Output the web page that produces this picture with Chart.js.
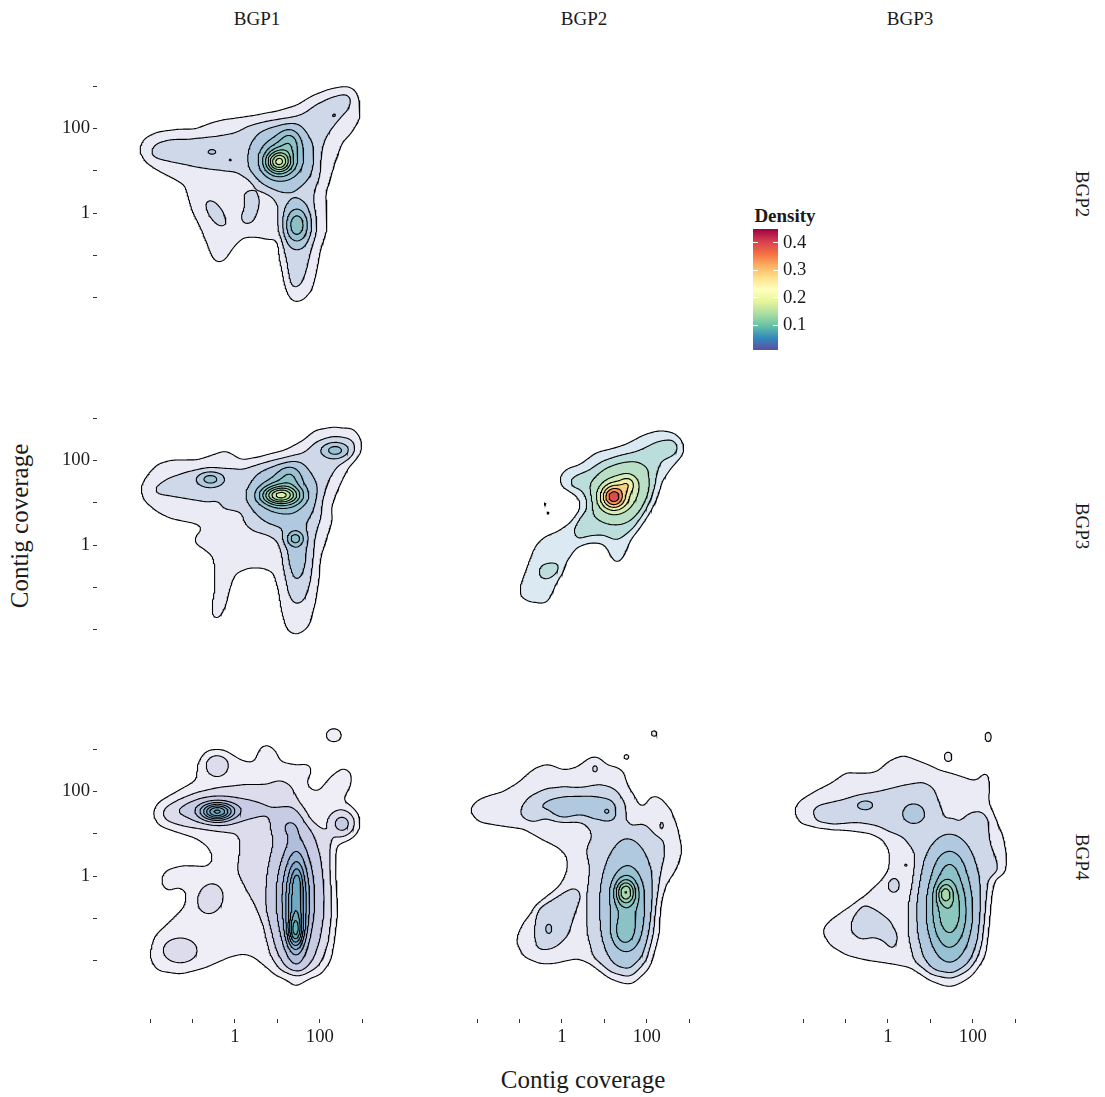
<!DOCTYPE html>
<html>
<head>
<meta charset="utf-8">
<script src="https://cdn.jsdelivr.net/npm/chart.js@4.4.1/dist/chart.umd.min.js"></script>
<style>
  body { margin: 0; background: #fff; width: 1105px; height: 1097px; position: relative; overflow: hidden;
         font-family: "Liberation Serif", "DejaVu Serif", serif; color: #1a1a1a; }
  canvas { position: absolute; }
  .t { position: absolute; white-space: nowrap; transform: translate(-50%, -50%); }
</style>
</head>
<body>
<div class="t" style="left:257px;top:19px;font-size:19px">BGP1</div>
<div class="t" style="left:584px;top:19px;font-size:19px">BGP2</div>
<div class="t" style="left:910px;top:19px;font-size:19px">BGP3</div>
<div class="t" style="left:1082px;top:194px;font-size:19px;transform:translate(-50%,-50%) rotate(90deg)">BGP2</div>
<div class="t" style="left:1082px;top:526px;font-size:19px;transform:translate(-50%,-50%) rotate(90deg)">BGP3</div>
<div class="t" style="left:1082px;top:857px;font-size:19px;transform:translate(-50%,-50%) rotate(90deg)">BGP4</div>
<div class="t" style="left:583px;top:1080px;font-size:25px">Contig coverage</div>
<div class="t" style="left:20px;top:526px;font-size:25px;transform:translate(-50%,-50%) rotate(-90deg)">Contig coverage</div>
<div class="t" style="left:785px;top:216px;font-size:19px;font-weight:bold">Density</div>

<script>
// axes are log10(coverage)
const xMin = -3.25, xMax = 4.29;
const yMin = -3.37, yMax = 4.28;
const tickValues = [-2, -1, 0, 1, 2, 3];
const tickLabels = ['', '', '1', '', '100', ''];

// colour scale (Spectral, reversed) over the contour levels
const levelMin = 0.01, levelMax = 0.45;
const legendTicks = [0.1, 0.2, 0.3, 0.4];
const spectral = ['#5E4FA2', '#3288BD', '#66C2A5', '#ABDDA4', '#E6F598', '#FFFFBF',
                  '#FEE08B', '#FDAE61', '#F46D43', '#D53E4F', '#9E0142'];

// Each panel: outlines of the lower density bands (log10 x, log10 y), each one adds one
// contour step, plus peaks on top [x, y, sdx, sdy, height, angle deg].
const bgp2_vs_bgp1_bands = [
  [[-2.27,1.49],[-2.15,1.76],[-1.84,1.92],[-1.37,1.98],[-0.9,2.0],[-0.58,2.13],[-0.27,2.21],[0.13,2.26],[0.52,2.31],[0.99,2.39],[1.46,2.55],[1.85,2.79],[2.25,2.94],[2.64,3.0],[2.84,2.9],[2.95,2.59],[2.95,2.24],[2.76,1.92],[2.52,1.65],[2.36,1.25],[2.25,0.86],[2.13,0.46],[2.17,0.07],[2.17,-0.4],[2.01,-0.87],[1.93,-1.35],[1.81,-1.82],[1.62,-2.05],[1.38,-2.12],[1.23,-1.9],[1.15,-1.5],[1.05,-1.03],[1.03,-0.56],[0.83,-0.64],[0.52,-0.56],[0.2,-0.56],[-0.03,-0.79],[-0.23,-1.11],[-0.42,-1.19],[-0.54,-1.03],[-0.66,-0.72],[-0.82,-0.32],[-1.01,0.07],[-1.13,0.46],[-1.17,0.66],[-1.45,0.82],[-1.84,1.02],[-2.11,1.21]],
  [[-2.0,1.47],[-1.84,1.66],[-1.52,1.74],[-0.97,1.76],[-0.42,1.82],[0.05,1.9],[0.32,2.04],[0.75,2.12],[1.23,2.17],[1.58,2.31],[1.89,2.55],[2.25,2.73],[2.6,2.83],[2.76,2.73],[2.68,2.47],[2.44,2.2],[2.21,1.92],[2.03,1.61],[1.95,1.25],[1.97,0.9],[1.85,0.54],[1.84,0.15],[1.89,-0.32],[1.78,-0.79],[1.7,-1.27],[1.58,-1.66],[1.42,-1.82],[1.29,-1.66],[1.23,-1.27],[1.16,-0.79],[1.08,-0.32],[1.05,0.15],[0.91,0.43],[0.52,0.66],[0.32,0.86],[0.05,0.98],[-0.42,1.02],[-0.9,1.09],[-1.37,1.19],[-1.8,1.28],[-1.96,1.35]],
  [[-0.66,0.35],[-0.46,0.27],[-0.27,0.03],[-0.17,-0.24],[-0.27,-0.36],[-0.42,-0.28],[-0.62,-0.05],[-0.72,0.23]],
  [[0.2,0.5],[0.44,0.53],[0.58,0.31],[0.52,-0.01],[0.4,-0.24],[0.2,-0.28],[0.13,-0.09],[0.24,0.15]]
];
const bgp2_vs_bgp1_peaks = [
  [1.1, 1.3, 0.42, 0.42, 0.06, 0],
  [1.03, 1.21, 0.2, 0.18, 0.1, 0],
  [1.3, 1.72, 0.18, 0.22, 0.03, 0],
  [1.46, -0.28, 0.2, 0.3, 0.065, 0],
  [-0.54, 1.45, 0.1, 0.06, 0.015, 0],
  [-0.11, 1.26, 0.03, 0.03, 0.013, 0],
  [2.34, 2.31, 0.07, 0.05, 0.013, 30]
];

const bgp3_vs_bgp1_bands = [
  [[-2.23,1.36],[-2.07,1.65],[-1.8,1.93],[-1.45,2.02],[-0.9,2.01],[-0.54,2.13],[-0.23,2.24],[-0.03,2.13],[0.13,2.01],[0.52,2.05],[1.15,2.2],[1.62,2.48],[1.89,2.72],[2.33,2.79],[2.8,2.75],[2.99,2.48],[2.95,2.16],[2.68,1.85],[2.44,1.38],[2.25,0.91],[2.29,0.59],[2.17,0.2],[2.01,-0.28],[1.97,-0.83],[1.89,-1.38],[1.74,-1.93],[1.46,-2.13],[1.23,-2.01],[1.11,-1.61],[1.03,-1.06],[0.91,-0.63],[0.68,-0.55],[0.28,-0.55],[0.01,-0.67],[-0.11,-0.98],[-0.23,-1.46],[-0.38,-1.77],[-0.54,-1.73],[-0.54,-1.38],[-0.46,-0.98],[-0.5,-0.28],[-0.74,-0.08],[-0.97,0.04],[-0.93,0.24],[-0.7,0.39],[-0.9,0.51],[-1.52,0.63],[-1.84,0.79],[-2.15,1.06]],
  [[-1.92,1.34],[-1.6,1.57],[-1.13,1.73],[-0.58,1.81],[-0.11,1.81],[0.2,1.77],[0.68,1.89],[1.15,1.97],[1.62,2.16],[1.93,2.44],[2.33,2.57],[2.72,2.52],[2.84,2.32],[2.72,2.09],[2.4,1.85],[2.17,1.53],[1.97,1.06],[1.97,0.59],[1.85,0.12],[1.81,-0.35],[1.74,-0.91],[1.62,-1.3],[1.42,-1.42],[1.29,-1.14],[1.23,-0.67],[1.15,-0.2],[1.03,0.12],[0.75,0.28],[0.44,0.35],[0.24,0.51],[0.2,0.79],[-0.03,0.83],[-0.31,0.87],[-0.35,1.06],[-0.66,1.02],[-1.13,1.1],[-1.6,1.18],[-1.88,1.22]]
];
const bgp3_vs_bgp1_peaks = [
  [1.15, 1.2, 0.45, 0.42, 0.05, 0],
  [1.07, 1.18, 0.3, 0.15, 0.11, 0],
  [1.3, 1.65, 0.2, 0.2, 0.025, 0],
  [-0.58, 1.56, 0.2, 0.12, 0.04, 0],
  [2.36, 2.24, 0.2, 0.12, 0.04, 0],
  [1.42, 0.16, 0.14, 0.12, 0.045, 0],
  [1.45, -0.2, 0.2, 0.5, 0.02, 0]
];

const bgp3_vs_bgp2_bands = [
  [[2.86,2.4],[2.66,2.64],[2.31,2.72],[1.92,2.6],[1.52,2.36],[1.13,2.24],[0.82,2.18],[0.42,1.89],[0.11,1.81],[-0.06,1.61],[-0.01,1.38],[0.27,1.26],[0.5,1.06],[0.46,0.79],[0.19,0.51],[-0.13,0.31],[-0.4,0.2],[-0.64,-0.04],[-0.79,-0.43],[-0.99,-0.98],[-0.99,-1.22],[-0.75,-1.34],[-0.36,-1.38],[-0.2,-1.06],[0.03,-0.51],[0.35,-0.04],[0.66,0.08],[1.01,0.04],[1.17,-0.28],[1.29,-0.47],[1.45,-0.28],[1.6,0.12],[1.84,0.51],[2.11,1.06],[2.31,1.53],[2.62,1.89],[2.86,2.16]],
  [[0.19,1.53],[0.35,1.65],[0.66,1.73],[0.97,1.93],[1.37,2.05],[1.76,2.16],[2.23,2.44],[2.62,2.52],[2.78,2.32],[2.66,2.13],[2.31,2.01],[2.15,1.69],[2.11,1.3],[1.96,0.83],[1.68,0.43],[1.29,0.12],[1.13,0.2],[0.97,0.28],[0.66,0.24],[0.35,0.12],[0.27,0.35],[0.42,0.67],[0.66,0.83],[0.66,1.14],[0.5,1.34],[0.23,1.36]],
  [[-0.52,-0.47],[-0.28,-0.41],[-0.05,-0.43],[-0.01,-0.59],[-0.2,-0.75],[-0.44,-0.83],[-0.56,-0.71]]
];
const bgp3_vs_bgp2_peaks = [
  [1.4, 1.25, 0.5, 0.42, 0.1, 40],
  [1.21, 1.14, 0.2, 0.2, 0.22, 0],
  [1.55, 1.45, 0.13, 0.13, 0.07, 0],
  [-0.4, 0.97, 0.03, 0.03, 0.035, 0],
  [-0.33, 0.76, 0.03, 0.03, 0.035, 0]
];

const bgp4_vs_bgp1_bands = [
  [[-1.92,1.48],[-1.8,1.72],[-1.37,1.99],[-0.9,2.27],[-0.86,2.66],[-0.66,2.94],[-0.27,2.94],[0.13,2.74],[0.44,2.66],[0.6,3.05],[0.75,3.13],[0.95,2.98],[1.07,2.7],[1.46,2.62],[1.78,2.66],[1.81,2.46],[1.66,2.23],[1.78,2.03],[1.97,1.99],[2.25,2.35],[2.56,2.58],[2.76,2.42],[2.72,2.11],[2.52,1.79],[2.72,1.64],[2.91,1.4],[2.88,1.09],[2.72,0.93],[2.4,0.77],[2.33,0.38],[2.36,-0.17],[2.4,-0.8],[2.33,-1.43],[2.25,-1.98],[2.01,-2.3],[1.54,-2.38],[0.99,-2.3],[0.44,-1.9],[0.2,-1.83],[-0.11,-1.9],[-0.66,-2.14],[-1.29,-2.3],[-1.84,-2.22],[-2.0,-1.9],[-1.88,-1.43],[-1.52,-1.04],[-1.17,-0.72],[-1.13,-0.37],[-1.33,-0.25],[-1.6,-0.37],[-1.76,-0.13],[-1.64,0.14],[-1.21,0.26],[-0.66,0.22],[-0.5,0.38],[-0.62,0.69],[-0.9,0.89],[-1.37,1.05],[-1.8,1.2]],
  [[-1.68,1.52],[-1.37,1.72],[-0.9,1.95],[-0.42,2.07],[0.13,2.15],[0.68,2.15],[1.07,2.27],[1.3,2.15],[1.46,1.72],[1.7,1.28],[1.93,1.13],[2.25,0.93],[2.21,0.38],[2.25,-0.33],[2.25,-0.96],[2.17,-1.59],[1.97,-2.06],[1.62,-2.26],[1.15,-2.18],[0.91,-1.83],[0.75,-1.2],[0.52,-0.72],[0.28,-0.33],[0.05,0.14],[0.13,0.77],[0.05,1.01],[-0.27,1.05],[-0.74,1.13],[-1.21,1.2],[-1.6,1.32]]
];
const bgp4_vs_bgp1_peaks = [
  [-0.42, 1.52, 0.25, 0.14, 0.055, 0],
  [-0.3, 1.58, 0.75, 0.2, 0.013, 0],
  [1.23, 1.2, 0.25, 0.22, 0.009, 0],
  [1.42, -0.5, 0.36, 0.95, 0.032, 0],
  [1.45, -0.7, 0.16, 0.8, 0.03, 0],
  [1.42, -1.3, 0.12, 0.25, 0.035, 0],
  [1.47, -0.1, 0.08, 0.2, 0.01, 0],
  [2.33, 3.33, 0.16, 0.14, 0.009, 0],
  [-0.42, 2.62, 0.2, 0.2, 0.012, 0],
  [-1.29, -1.75, 0.3, 0.22, 0.012, 0],
  [-0.58, -0.53, 0.22, 0.27, 0.012, -20],
  [2.52, 1.24, 0.2, 0.2, 0.02, 0]
];

const bgp4_vs_bgp2_bands = [
  [[-2.19,1.56],[-2.0,1.79],[-1.68,1.91],[-1.37,1.99],[-1.05,2.19],[-0.66,2.54],[-0.35,2.66],[0.05,2.5],[0.36,2.58],[0.68,2.82],[0.87,2.82],[1.07,2.62],[1.3,2.58],[1.46,2.46],[1.54,2.11],[1.7,1.79],[1.81,1.56],[1.97,1.6],[2.13,1.91],[2.33,1.83],[2.56,1.56],[2.72,1.16],[2.84,0.61],[2.68,0.14],[2.4,-0.25],[2.25,-0.72],[2.21,-1.43],[2.01,-2.14],[1.62,-2.5],[1.15,-2.38],[0.68,-2.06],[0.36,-1.94],[-0.19,-2.06],[-0.54,-2.06],[-0.9,-1.9],[-1.09,-1.51],[-0.93,-1.12],[-0.66,-0.8],[-0.35,-0.49],[-0.07,-0.25],[0.13,0.14],[0.13,0.46],[-0.11,0.69],[-0.5,0.89],[-0.9,1.13],[-1.45,1.2],[-1.96,1.28]],
  [[-0.93,1.56],[-0.74,1.83],[-0.35,2.03],[0.05,2.07],[0.44,2.03],[0.91,2.15],[1.23,2.03],[1.35,1.79],[1.38,1.32],[1.62,1.09],[1.93,1.2],[2.17,0.97],[2.4,0.85],[2.4,0.46],[2.25,-0.02],[2.17,-0.65],[2.09,-1.28],[1.97,-1.9],[1.62,-2.3],[1.15,-2.22],[0.75,-1.9],[0.6,-1.28],[0.6,-0.49],[0.68,0.22],[0.56,0.61],[0.75,0.97],[0.6,1.32],[0.2,1.48],[-0.42,1.48],[-0.66,1.32],[-0.9,1.4]],
  [[-0.58,-0.72],[-0.27,-0.57],[0.13,-0.33],[0.36,-0.25],[0.44,-0.49],[0.28,-0.96],[0.13,-1.43],[-0.19,-1.71],[-0.58,-1.75],[-0.66,-1.35]]
];
const bgp4_vs_bgp2_peaks = [
  [0.4, 1.62, 0.9, 0.3, 0.016, 0],
  [0.05, 1.48, 0.18, 0.1, 0.02, 0],
  [1.06, 1.53, 0.1, 0.1, 0.02, 0],
  [1.55, -0.7, 0.36, 0.85, 0.055, 0],
  [1.5, -0.37, 0.16, 0.2, 0.08, 0],
  [1.46, -1.35, 0.2, 0.25, 0.025, 0],
  [-0.31, -1.24, 0.08, 0.12, 0.015, 0],
  [1.52, 2.82, 0.06, 0.06, 0.015, 0],
  [2.17, 3.37, 0.07, 0.07, 0.015, 0],
  [0.78, 2.54, 0.06, 0.08, 0.015, 0],
  [2.35, 1.2, 0.04, 0.07, 0.015, 0]
];

const bgp4_vs_bgp3_bands = [
  [[-2.23,1.56],[-2.07,1.79],[-1.68,2.03],[-1.29,2.23],[-0.97,2.46],[-0.66,2.42],[-0.27,2.46],[0.05,2.74],[0.36,2.86],[0.68,2.74],[0.99,2.62],[1.23,2.5],[1.54,2.42],[1.85,2.31],[2.09,2.23],[2.25,2.46],[2.36,2.46],[2.4,2.11],[2.36,1.79],[2.52,1.4],[2.72,0.93],[2.8,0.46],[2.76,0.06],[2.52,-0.02],[2.4,-0.49],[2.33,-1.2],[2.25,-1.9],[1.93,-2.3],[1.46,-2.46],[0.99,-2.38],[0.52,-2.14],[0.05,-2.06],[-0.5,-1.98],[-0.97,-1.87],[-1.37,-1.63],[-1.56,-1.28],[-1.37,-1.04],[-0.9,-0.72],[-0.58,-0.49],[-0.27,-0.21],[0.01,0.06],[0.05,0.54],[-0.11,0.85],[-0.42,1.01],[-0.97,1.09],[-1.68,1.16],[-2.07,1.24]],
  [[-1.8,1.56],[-1.6,1.69],[-1.13,1.79],[-0.66,1.91],[-0.11,2.03],[0.36,2.15],[0.83,2.23],[1.07,2.09],[1.21,1.72],[1.34,1.24],[1.5,1.4],[1.66,1.2],[1.93,1.5],[2.21,1.54],[2.36,1.34],[2.4,0.77],[2.56,0.38],[2.6,0.1],[2.33,-0.09],[2.25,-0.8],[2.17,-1.59],[1.97,-2.06],[1.54,-2.3],[1.03,-2.26],[0.64,-1.98],[0.52,-1.43],[0.52,-0.72],[0.64,-0.09],[0.68,0.54],[0.36,0.93],[0.05,1.05],[-0.27,1.2],[-0.74,1.28],[-1.29,1.2],[-1.68,1.28]],
  [[-0.82,-0.96],[-0.58,-0.65],[-0.27,-0.8],[0.05,-1.04],[0.24,-1.43],[0.13,-1.79],[-0.11,-1.51],[-0.35,-1.43],[-0.66,-1.51],[-0.9,-1.28]]
];
const bgp4_vs_bgp3_peaks = [
  [-0.54, 1.68, 0.2, 0.12, 0.015, 0],
  [0.6, 1.48, 0.2, 0.18, 0.022, 0],
  [1.45, -0.8, 0.38, 0.85, 0.085, 0],
  [1.45, 0.3, 0.25, 0.3, 0.012, 0],
  [1.34, -0.41, 0.13, 0.17, 0.05, 0],
  [1.42, 2.82, 0.1, 0.12, 0.015, 0],
  [2.36, 3.29, 0.08, 0.12, 0.015, 0],
  [0.13, -0.21, 0.14, 0.18, 0.015, 0],
  [0.42, 0.26, 0.03, 0.03, 0.014, 0]
];

// facet layout: row (y variable) x column (x variable), with contour bin width
const panels = [
  { row: 0, col: 0, bands: bgp2_vs_bgp1_bands, peaks: bgp2_vs_bgp1_peaks, step: 0.02 },
  { row: 1, col: 0, bands: bgp3_vs_bgp1_bands, peaks: bgp3_vs_bgp1_peaks, step: 0.02 },
  { row: 1, col: 1, bands: bgp3_vs_bgp2_bands, peaks: bgp3_vs_bgp2_peaks, step: 0.05 },
  { row: 2, col: 0, bands: bgp4_vs_bgp1_bands, peaks: bgp4_vs_bgp1_peaks, step: 0.01 },
  { row: 2, col: 1, bands: bgp4_vs_bgp2_bands, peaks: bgp4_vs_bgp2_peaks, step: 0.02 },
  { row: 2, col: 2, bands: bgp4_vs_bgp3_bands, peaks: bgp4_vs_bgp3_peaks, step: 0.02 }
];

const colLeft = [97, 424, 750];
const rowTop = [32, 364, 695];
const panelW = 320, panelH = 324, yAxisW = 60, xAxisH = 40;
const serif = '"Liberation Serif", "DejaVu Serif", serif';
const gridStep = 0.03, blurSd = 0.09;

function hexToRgb(h) {
  return [parseInt(h.slice(1, 3), 16), parseInt(h.slice(3, 5), 16), parseInt(h.slice(5, 7), 16)];
}
function paletteAt(t) {
  t = Math.max(0, Math.min(1, t));
  const p = t * (spectral.length - 1), i = Math.min(Math.floor(p), spectral.length - 2), f = p - i;
  const a = hexToRgb(spectral[i]), b = hexToRgb(spectral[i + 1]);
  return a.map((v, k) => Math.round(v + (b[k] - v) * f));
}

function insidePoly(poly, x, y) {
  let inside = false;
  for (let i = 0, j = poly.length - 1; i < poly.length; j = i++) {
    const [xi, yi] = poly[i], [xj, yj] = poly[j];
    if ((yi > y) !== (yj > y) && x < (xj - xi) * (y - yi) / (yj - yi) + xi) inside = !inside;
  }
  return inside;
}

function blur(a, nx, ny, sd) {
  const r = Math.ceil(sd * 3), k = [];
  let ks = 0;
  for (let i = -r; i <= r; i++) { const v = Math.exp(-0.5 * (i / sd) ** 2); k.push(v); ks += v; }
  for (let i = 0; i < k.length; i++) k[i] /= ks;
  const tmp = new Float64Array(nx * ny), out = new Float64Array(nx * ny);
  for (let j = 0; j < ny; j++) for (let i = 0; i < nx; i++) {
    let s = 0;
    for (let d = -r; d <= r; d++) { const ii = i + d; if (ii >= 0 && ii < nx) s += a[j * nx + ii] * k[d + r]; }
    tmp[j * nx + i] = s;
  }
  for (let j = 0; j < ny; j++) for (let i = 0; i < nx; i++) {
    let s = 0;
    for (let d = -r; d <= r; d++) { const jj = j + d; if (jj >= 0 && jj < ny) s += tmp[jj * nx + i] * k[d + r]; }
    out[j * nx + i] = s;
  }
  return out;
}

// density surface: smoothed band outlines + peaks
function densityGrid(p) {
  const xs = [], ys = [];
  for (let x = xMin; x <= xMax + 1e-9; x += gridStep) xs.push(x);
  for (let y = yMin; y <= yMax + 1e-9; y += gridStep) ys.push(y);
  const nx = xs.length, ny = ys.length, z = new Float64Array(nx * ny).fill(0.5 * p.step);
  for (const poly of p.bands) {
    const m = new Float64Array(nx * ny);
    for (let j = 0; j < ny; j++) for (let i = 0; i < nx; i++) m[j * nx + i] = insidePoly(poly, xs[i], ys[j]) ? 1 : 0;
    const b = blur(m, nx, ny, blurSd / gridStep);
    for (let n = 0; n < z.length; n++) z[n] += p.step * b[n];
  }
  const pre = p.peaks.map(([mx, my, sx, sy, h, ang]) => {
    const r = ang * Math.PI / 180;
    return [mx, my, 1 / (sx * sx), 1 / (sy * sy), h, Math.cos(r), Math.sin(r)];
  });
  for (let j = 0; j < ny; j++) {
    for (let i = 0; i < nx; i++) {
      let s = 0;
      for (const [mx, my, ix, iy, h, c, sn] of pre) {
        const ddx = xs[i] - mx, ddy = ys[j] - my;
        const u = c * ddx + sn * ddy, v = -sn * ddx + c * ddy;
        const q = u * u * ix + v * v * iy;
        if (q < 40) s += h * Math.exp(-0.5 * q);
      }
      z[j * nx + i] += s;
    }
  }
  // zero frame so every contour closes
  for (let j = 0; j < ny; j++) for (let i = 0; i < nx; i++)
    if (i === 0 || j === 0 || i === nx - 1 || j === ny - 1) z[j * nx + i] = 0;
  return { xs, ys, nx, ny, z };
}

function sampleZ(g, x, y) {
  const fi = (x - g.xs[0]) / gridStep, fj = (y - g.ys[0]) / gridStep;
  const i = Math.max(0, Math.min(g.nx - 2, Math.floor(fi))), j = Math.max(0, Math.min(g.ny - 2, Math.floor(fj)));
  const u = fi - i, v = fj - j, z = g.z, nx = g.nx;
  return (1 - u) * (1 - v) * z[j * nx + i] + u * (1 - v) * z[j * nx + i + 1] + u * v * z[(j + 1) * nx + i + 1] + (1 - u) * v * z[(j + 1) * nx + i];
}

// marching squares -> closed rings for one level
const caseEdges = {
  1: [[3, 0]], 2: [[0, 1]], 3: [[3, 1]], 4: [[1, 2]], 6: [[0, 2]], 7: [[3, 2]],
  8: [[3, 2]], 9: [[0, 2]], 11: [[1, 2]], 12: [[3, 1]], 13: [[0, 1]], 14: [[3, 0]]
};
function contourRings(g, L) {
  const { xs, ys, nx, ny, z } = g;
  const pts = new Map();
  const segs = [];
  function edge(i, j, e, v0, v1, v2, v3) {
    let key, xa, ya, va, xb, yb, vb;
    if (e === 0) { key = (j * nx + i) * 2; xa = xs[i]; ya = ys[j]; va = v0; xb = xs[i + 1]; yb = ys[j]; vb = v1; }
    else if (e === 1) { key = (j * nx + i + 1) * 2 + 1; xa = xs[i + 1]; ya = ys[j]; va = v1; xb = xs[i + 1]; yb = ys[j + 1]; vb = v2; }
    else if (e === 2) { key = ((j + 1) * nx + i) * 2; xa = xs[i]; ya = ys[j + 1]; va = v3; xb = xs[i + 1]; yb = ys[j + 1]; vb = v2; }
    else { key = (j * nx + i) * 2 + 1; xa = xs[i]; ya = ys[j]; va = v0; xb = xs[i]; yb = ys[j + 1]; vb = v3; }
    if (!pts.has(key)) {
      const t = (L - va) / (vb - va);
      pts.set(key, { x: xa + t * (xb - xa), y: ya + t * (yb - ya) });
    }
    return key;
  }
  for (let j = 0; j < ny - 1; j++) {
    for (let i = 0; i < nx - 1; i++) {
      const v0 = z[j * nx + i], v1 = z[j * nx + i + 1], v2 = z[(j + 1) * nx + i + 1], v3 = z[(j + 1) * nx + i];
      const c = (v0 >= L ? 1 : 0) | (v1 >= L ? 2 : 0) | (v2 >= L ? 4 : 0) | (v3 >= L ? 8 : 0);
      if (c === 0 || c === 15) continue;
      let pairs = caseEdges[c];
      if (c === 5 || c === 10) {
        const up = (v0 + v1 + v2 + v3) / 4 >= L;
        if (c === 5) pairs = up ? [[3, 2], [0, 1]] : [[3, 0], [1, 2]];
        else pairs = up ? [[3, 0], [1, 2]] : [[0, 1], [3, 2]];
      }
      for (const [a, b] of pairs) segs.push([edge(i, j, a, v0, v1, v2, v3), edge(i, j, b, v0, v1, v2, v3)]);
    }
  }
  const adj = new Map();
  segs.forEach((s, k) => s.forEach(key => { if (!adj.has(key)) adj.set(key, []); adj.get(key).push(k); }));
  const used = new Uint8Array(segs.length);
  const rings = [];
  for (let k = 0; k < segs.length; k++) {
    if (used[k]) continue;
    used[k] = 1;
    const start = segs[k][0];
    let cur = segs[k][1];
    const ring = [pts.get(start), pts.get(cur)];
    while (cur !== start) {
      const next = adj.get(cur).find(n => !used[n]);
      if (next === undefined) break;
      used[next] = 1;
      cur = segs[next][0] === cur ? segs[next][1] : segs[next][0];
      ring.push(pts.get(cur));
    }
    if (ring.length > 3) rings.push(ring.map(p => ({ x: p.x, y: p.y })));
  }
  return rings;
}

// a ring around a dip (density inside below the level) is outlined but not filled again
function isHole(g, ring, L) {
  let area = 0;
  for (let i = 0; i < ring.length - 1; i++) area += ring[i].x * ring[i + 1].y - ring[i + 1].x * ring[i].y;
  const p = ring[0], q = ring[1];
  let dx = q.x - p.x, dy = q.y - p.y;
  const len = Math.hypot(dx, dy) || 1;
  dx /= len; dy /= len;
  const sgn = area > 0 ? 1 : -1;
  const mx = (p.x + q.x) / 2 - sgn * dy * 0.02, my = (p.y + q.y) / 2 + sgn * dx * 0.02;
  return sampleZ(g, mx, my) < L;
}

function axisScale(show, isX) {
  return {
    type: 'linear',
    min: isX ? xMin : yMin,
    max: isX ? xMax : yMax,
    display: show,
    grid: { drawOnChartArea: false, drawTicks: true, tickLength: 4, tickColor: '#333', tickWidth: 1 },
    border: { display: false },
    ticks: {
      display: show, autoSkip: false, maxRotation: 0, padding: 3, color: '#1a1a1a',
      font: { family: serif, size: 18.7 },
      callback: v => tickLabels[tickValues.indexOf(v)] ?? ''
    },
    afterBuildTicks: s => { s.ticks = tickValues.map(v => ({ value: v })); },
    afterFit: s => {
      if (isX) { s.height = show ? xAxisH : 0; s.paddingLeft = 0; s.paddingRight = 0; }
      else { s.width = show ? yAxisW : 0; s.paddingTop = 0; s.paddingBottom = 0; }
    }
  };
}

function drawPanel(p) {
  const g = densityGrid(p);
  let zmax = 0;
  for (const v of g.z) zmax = Math.max(zmax, v);
  const datasets = [];
  for (let k = 1; k * p.step <= zmax; k++) {
    const L = k * p.step;
    const t = (L - levelMin) / (levelMax - levelMin);
    const [r, gg, b] = paletteAt(t);
    const alpha = 0.1 + 0.9 * Math.max(0, Math.min(1, t));
    for (const ring of contourRings(g, L)) {
      const hole = isHole(g, ring, L);
      datasets.unshift({
        data: ring,
        fill: hole ? false : 'shape',
        backgroundColor: `rgba(${r},${gg},${b},${alpha.toFixed(3)})`,
        borderColor: '#000',
        borderWidth: 1.1,
        pointRadius: 0,
        tension: 0
      });
    }
  }
  const hasY = p.col === 0, hasX = p.row === 2;
  const cv = document.createElement('canvas');
  cv.width = panelW + (hasY ? yAxisW : 0);
  cv.height = panelH + (hasX ? xAxisH : 0);
  cv.style.left = (colLeft[p.col] - (hasY ? yAxisW : 0)) + 'px';
  cv.style.top = rowTop[p.row] + 'px';
  document.body.appendChild(cv);
  new Chart(cv, {
    type: 'line',
    data: { datasets },
    options: {
      responsive: false, animation: false, devicePixelRatio: 1, events: [],
      layout: { padding: 0 },
      plugins: { legend: { display: false }, tooltip: { enabled: false }, filler: { drawTime: 'beforeDatasetsDraw' } },
      scales: { x: axisScale(hasX, true), y: axisScale(hasY, false) }
    }
  });
}
panels.forEach(drawPanel);

// colour bar
const lc = document.createElement('canvas');
lc.width = 75; lc.height = 121;
lc.style.left = '753px'; lc.style.top = '229px';
document.body.appendChild(lc);
new Chart(lc, {
  type: 'bar',
  data: {
    labels: ['Density'],
    datasets: [{
      data: [[levelMin, levelMax]],
      barPercentage: 1, categoryPercentage: 1, borderWidth: 0,
      backgroundColor: c => {
        const a = c.chart.chartArea;
        if (!a) return spectral[0];
        const grd = c.chart.ctx.createLinearGradient(0, a.bottom, 0, a.top);
        spectral.forEach((col, i) => grd.addColorStop(i / (spectral.length - 1), col));
        return grd;
      }
    }]
  },
  options: {
    responsive: false, animation: false, devicePixelRatio: 1, events: [],
    layout: { padding: 0 },
    plugins: { legend: { display: false }, tooltip: { enabled: false } },
    scales: {
      x: { display: false },
      y: {
        position: 'right', min: levelMin, max: levelMax,
        grid: { color: '#fff', drawTicks: false, z: 1, lineWidth: 1 },
        border: { display: false, dash: [5, 15] },
        ticks: { padding: 5, color: '#1a1a1a', font: { family: serif, size: 18.7 }, callback: v => v.toFixed(1) },
        afterBuildTicks: s => { s.ticks = legendTicks.map(v => ({ value: v })); },
        afterFit: s => { s.width = 50; s.paddingTop = 0; s.paddingBottom = 0; }
      }
    }
  }
});
</script>
</body>
</html>
